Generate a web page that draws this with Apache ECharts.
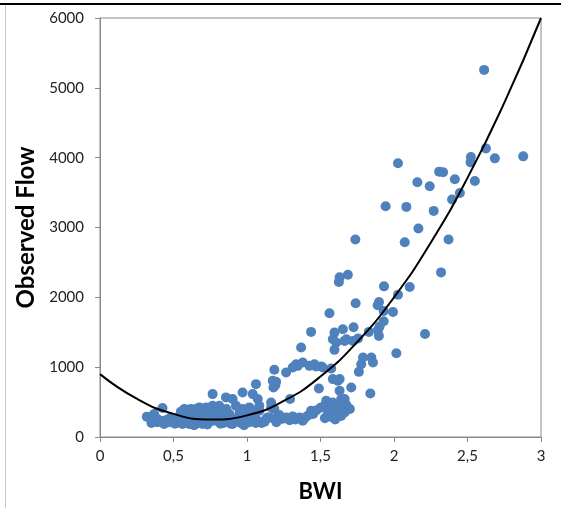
<!DOCTYPE html>
<html>
<head>
<meta charset="utf-8">
<script src="https://cdn.jsdelivr.net/npm/echarts@6/dist/echarts.min.js"></script>
<style>
html,body{margin:0;padding:0;background:#fff;}
#c{width:561px;height:508px;}
</style>
</head>
<body>
<div id="c"></div>
<script>
// Observed points: BWI (x) and Observed Flow (y)
const bwi = [
2.613,2.625,2.523,2.521,2.686,2.879,2.027,2.307,2.334,2.414,2.159,2.243,2.550,2.448,2.395,1.943,2.084,2.270,2.166,2.073,
2.371,2.320,1.932,2.107,2.027,1.737,1.686,1.630,1.625,1.898,1.889,1.739,1.561,1.930,1.993,1.930,1.902,1.891,1.829,1.725,
1.652,1.595,2.211,1.897,1.676,1.721,1.755,2.016,1.789,1.846,1.857,1.777,1.761,1.630,1.709,1.630,1.839,1.664,1.652,1.641,
1.436,1.368,1.584,1.607,1.664,1.595,1.379,1.345,1.311,1.425,1.470,1.505,1.573,1.266,1.186,1.198,1.584,1.618,1.489,1.293,
1.539,1.584,1.641,1.527,1.573,1.630,1.676,1.550,1.607,1.664,1.186,1.220,1.266,1.311,1.357,1.391,1.436,1.379,1.152,1.334,
1.459,1.516,1.175,1.193,1.180,1.061,0.970,0.766,0.857,0.902,1.039,1.073,1.084,1.164,1.164,0.721,0.766,0.811,0.925,0.970,
1.016,0.675,0.721,0.789,0.834,0.880,0.948,0.993,1.039,1.084,0.721,0.777,0.834,0.902,0.959,1.016,1.073,1.130,1.186,1.141,
0.425,0.368,0.334,0.391,0.436,0.482,0.573,0.618,0.675,0.550,0.595,0.641,0.687,0.561,0.607,0.652,0.698,0.527,0.391,0.436,
0.318,0.460,0.500,0.530,0.580,0.620,0.660,0.700,0.740,0.770,0.800,0.840,0.870,0.920,0.960,1.000,1.050,1.100,0.740,0.860,
0.620,0.950,1.040,0.780,0.550,1.500,1.560,1.620,1.700,1.530,1.600,1.570,1.640,1.240,1.290,1.330,1.410,1.450,1.470,0.350,
0.470,0.510,0.590,0.640,0.730,0.820,0.890,0.980,1.060,1.120,1.200,0.600,0.680,0.710,0.650
];
const flow = [
5257,4133,4010,3933,3990,4019,3919,3800,3790,3690,3648,3590,3667,3495,3400,3305,3295,3238,2986,2790,
2829,2357,2157,2147,2038,2829,2324,2286,2219,1933,1886,1914,1771,1805,1790,1657,1581,1533,1505,1571,
1543,1495,1476,1448,1400,1376,1410,1200,1139,1139,1067,1043,933,829,710,662,624,543,471,400,
1505,1281,1400,1353,1376,1248,1067,1019,995,1019,1010,1010,981,924,962,790,829,805,695,543,
519,495,543,448,400,424,457,329,314,352,400,314,281,295,281,267,376,233,281,1043,
1043,995,805,743,710,757,638,614,567,543,614,543,448,495,424,424,448,448,448,400,
424,376,329,352,367,329,329,338,329,376,233,233,233,186,196,210,233,257,257,281,
414,329,281,257,233,281,400,400,424,305,281,305,305,186,186,186,186,233,210,186,
290,250,220,280,230,250,220,260,210,290,260,200,270,250,280,260,290,200,330,400,
340,380,370,390,360,420,360,380,400,270,250,290,300,260,240,250,300,330,380,200,
210,190,210,170,180,190,190,170,200,220,210,390,410,380,400
];
// Trend curve
const curveX = [0,0.25,0.5,0.75,1,1.25,1.5,1.75,2,2.25,2.5,2.75,3];
const curveY = [900,548,331,249,310,516,866,1361,2000,2783,3711,4784,6000];
// Axis ticks
const xTicks = ['0','0,5','1','1,5','2','2,5','3'];

const pts = bwi.map((x,i)=>[x,flow[i]]);
const curve = curveX.map((x,i)=>[x,curveY[i]]);

const chart = echarts.init(document.getElementById('c'), null, {renderer:'canvas'});
const FONT = 'Lato';
chart.setOption({
  animation:false,
  backgroundColor:'#fff',
  grid:{left:100,right:20,top:18,bottom:70,show:true,borderColor:'#898989',borderWidth:1,backgroundColor:'transparent'},
  xAxis:{
    type:'value',min:0,max:3,interval:0.5,
    name:'BWI',nameLocation:'middle',nameGap:44,
    nameTextStyle:{fontFamily:FONT,fontWeight:'bold',fontSize:22,color:'#000'},
    axisLine:{show:true,lineStyle:{color:'#898989',width:1}},
    axisTick:{show:true,inside:false,length:5,lineStyle:{color:'#898989'}},
    splitLine:{show:false},
    axisLabel:{fontFamily:FONT,fontSize:15,color:'#222',margin:12,
      formatter:(v)=>xTicks[Math.round(v/0.5)]}
  },
  yAxis:{
    type:'value',min:0,max:6000,interval:1000,
    name:'Observed Flow',nameLocation:'middle',nameGap:58,
    nameTextStyle:{fontFamily:FONT,fontWeight:'bold',fontSize:24,color:'#000'},
    axisLine:{show:true,lineStyle:{color:'#898989',width:1}},
    axisTick:{show:true,inside:false,length:5,lineStyle:{color:'#898989'}},
    splitLine:{show:false},
    axisLabel:{fontFamily:FONT,fontSize:15,color:'#222',margin:16,
      formatter:(v)=>String(v)}
  },
  series:[
    {type:'scatter',data:pts,symbol:'circle',symbolSize:10,
     itemStyle:{color:'#4F81BD',opacity:1},z:2,silent:true},
    {type:'line',data:curve,smooth:0.5,showSymbol:false,
     lineStyle:{color:'#000',width:2},z:3,silent:true}
  ],
  graphic:[
    {type:'line',shape:{x1:0,y1:4,x2:561,y2:4},style:{stroke:'#000',lineWidth:2},z:10},
    {type:'line',shape:{x1:5.5,y1:5,x2:5.5,y2:508},style:{stroke:'#c8c8c8',lineWidth:1},z:10}
  ]
});
</script>
</body>
</html>
